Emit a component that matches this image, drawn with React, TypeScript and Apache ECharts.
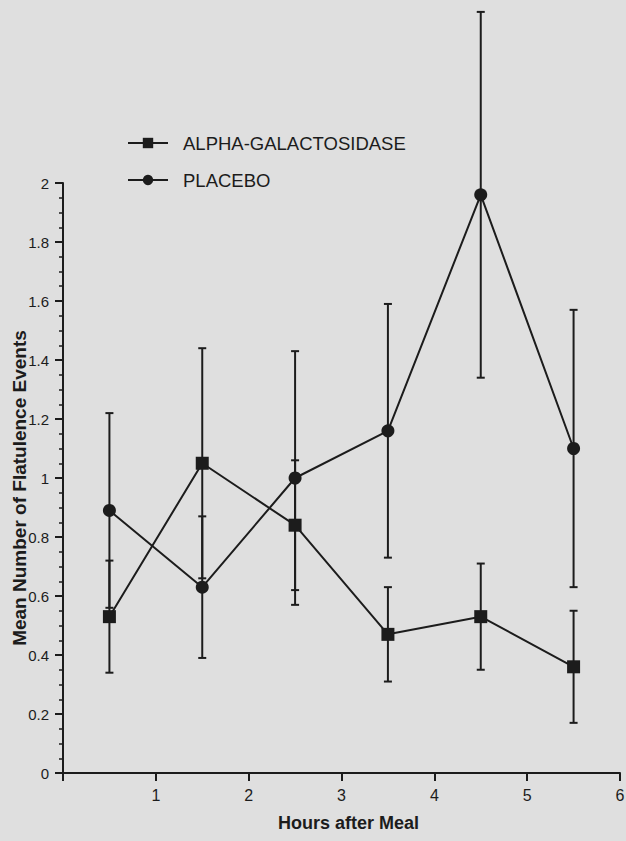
import React, { useEffect, useRef } from "react";
import * as echarts from "echarts";

const hours = [0.5, 1.5, 2.5, 3.5, 4.5, 5.5];
const alphaMean = [0.53, 1.05, 0.84, 0.47, 0.53, 0.36];
const alphaErr = [0.19, 0.39, 0.22, 0.16, 0.18, 0.19];
const placeboMean = [0.89, 0.63, 1.0, 1.16, 1.96, 1.1];
const placeboErr = [0.33, 0.24, 0.43, 0.43, 0.62, 0.47];
const xTicks = [1, 2, 3, 4, 5, 6];

const INK = "#1c1c1c";
const BG = "#dfdfdf";

function errorSeries(name: string, means: number[], errs: number[]) {
  return {
    type: "custom",
    name: name + "-err",
    clip: false,
    silent: true,
    z: 1,
    data: hours.map((h, i) => [h, means[i] - errs[i], means[i] + errs[i]]),
    renderItem: (params: any, api: any) => {
      const x = api.value(0);
      const lo = api.coord([x, api.value(1)]);
      const hi = api.coord([x, api.value(2)]);
      const cw = 4;
      const style = { stroke: INK, lineWidth: 2 };
      return {
        type: "group",
        children: [
          { type: "line", shape: { x1: lo[0], y1: lo[1], x2: hi[0], y2: hi[1] }, style },
          { type: "line", shape: { x1: lo[0] - cw, y1: lo[1], x2: lo[0] + cw, y2: lo[1] }, style },
          { type: "line", shape: { x1: hi[0] - cw, y1: hi[1], x2: hi[0] + cw, y2: hi[1] }, style },
        ],
      };
    },
  };
}

export default function App() {
  const ref = useRef<HTMLDivElement>(null);
  useEffect(() => {
    if (!ref.current) return;
    const chart = echarts.init(ref.current, undefined, { renderer: "svg" });
    const font = "Liberation Sans, Arial, Helvetica, sans-serif";
    chart.setOption({
      animation: false,
      backgroundColor: BG,
      textStyle: { fontFamily: font, color: INK },
      grid: { left: 63, right: 6, top: 183, bottom: 68, containLabel: false, outerBoundsMode: "none" },
      legend: {
        orient: "vertical",
        left: 127,
        top: 133,
        padding: 0,
        itemWidth: 40,
        itemHeight: 13,
        itemGap: 17,
        data: ["ALPHA-GALACTOSIDASE", "PLACEBO"],
        textStyle: { fontSize: 18.5, color: INK, fontFamily: font, lineHeight: 20, padding: [0, 0, 0, 10] },
      },
      xAxis: {
        type: "value",
        min: 0,
        max: 6,
        interval: 1,
        name: "Hours after Meal",
        nameLocation: "middle",
        nameGap: 41,
        nameMoveOverlap: false,
        nameTextStyle: { fontSize: 18, fontWeight: "bold", color: INK, fontFamily: font, padding: [0, 0, 0, 14] },
        axisLine: { show: true, lineStyle: { color: INK, width: 2 } },
        axisTick: { show: true, length: 8, lineStyle: { color: INK, width: 2 } },
        axisLabel: {
          fontSize: 16,
          color: INK,
          margin: 14,
          formatter: (v: number) => (xTicks.includes(v) ? String(v) : ""),
        },
        splitLine: { show: false },
      },
      yAxis: {
        type: "value",
        min: 0,
        max: 2,
        interval: 0.2,
        name: "Mean Number of Flatulence Events",
        nameLocation: "middle",
        nameRotate: 90,
        nameGap: 34,
        nameMoveOverlap: false,
        nameTextStyle: { fontSize: 19, fontWeight: "bold", color: INK, fontFamily: font, padding: [0, 20, 0, 0] },
        axisLine: { show: true, lineStyle: { color: INK, width: 2 } },
        axisTick: { show: true, length: 8, lineStyle: { color: INK, width: 2 } },
        minorTick: { show: true, splitNumber: 4, length: 4, lineStyle: { color: INK, width: 1.5 } },
        axisLabel: { fontSize: 15, color: INK, margin: 14 },
        splitLine: { show: false },
        minorSplitLine: { show: false },
      },
      series: [
        errorSeries("ALPHA-GALACTOSIDASE", alphaMean, alphaErr),
        errorSeries("PLACEBO", placeboMean, placeboErr),
        {
          type: "line",
          name: "ALPHA-GALACTOSIDASE",
          data: hours.map((h, i) => [h, alphaMean[i]]),
          symbol: "rect",
          symbolSize: 13,
          z: 3,
          lineStyle: { color: INK, width: 2 },
          itemStyle: { color: INK },
        },
        {
          type: "line",
          name: "PLACEBO",
          data: hours.map((h, i) => [h, placeboMean[i]]),
          symbol: "circle",
          symbolSize: 13,
          z: 3,
          lineStyle: { color: INK, width: 2 },
          itemStyle: { color: INK },
        },
      ],
    });
    return () => chart.dispose();
  }, []);
  return (
    <div
      ref={ref}
      style={{ position: "fixed", left: 0, top: 0, width: 626, height: 841, background: BG }}
    />
  );
}
